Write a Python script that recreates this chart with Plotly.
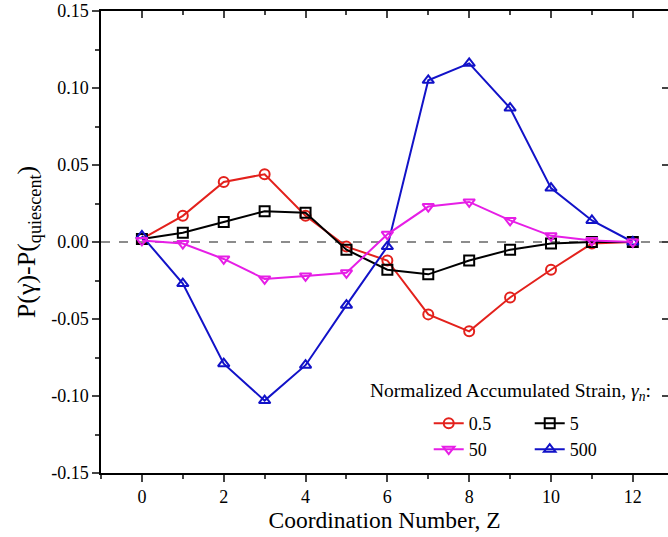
import plotly.graph_objects as go

Z = [0, 1, 2, 3, 4, 5, 6, 7, 8, 9, 10, 11, 12]
s_05 = [0.002, 0.017, 0.039, 0.044, 0.017, -0.003, -0.012, -0.047, -0.058, -0.036, -0.018, -0.001, 0.0]
s_5 = [0.002, 0.006, 0.013, 0.020, 0.019, -0.005, -0.018, -0.021, -0.012, -0.005, -0.001, 0.000, 0.0]
s_50 = [0.001, -0.001, -0.011, -0.024, -0.022, -0.020, 0.005, 0.023, 0.026, 0.014, 0.004, 0.001, 0.0]
s_500 = [0.004, -0.027, -0.079, -0.103, -0.080, -0.041, -0.003, 0.105, 0.116, 0.087, 0.035, 0.014, 0.0]
labels = ["0.5", "5", "50", "500"]

FONT = "Liberation Serif"

series = [
    (s_05, labels[0], "#e3211c", "circle-open", "legend", 1),
    (s_5, labels[1], "#000000", "square-open", "legend", 2),
    (s_500, labels[3], "#1212c8", "triangle-up-open", "legend2", 4),
    (s_50, labels[2], "#e61ee6", "triangle-down-open", "legend2", 3),
]

fig = go.Figure()
for ys, name, col, sym, leg, rank in series:
    fig.add_trace(go.Scatter(
        x=Z, y=ys, name=name, mode="lines+markers",
        line=dict(color=col, width=2),
        marker=dict(symbol=sym, size=10, color=col, line=dict(width=2, color=col)),
        legend=leg, legendrank=rank,
    ))

# helper trace so the mirrored top/right axes are drawn (no data)
fig.add_trace(go.Scatter(x=[], y=[], xaxis="x2", yaxis="y2", showlegend=False))

fig.add_shape(type="line", xref="paper", x0=0, x1=1, yref="y", y0=0, y1=0,
              line=dict(color="#8c8c8c", width=2, dash="dash"), layer="below")

xr = [-1, 12.86]
yr = [-0.15, 0.15]

fig.update_layout(
    width=668, height=537,
    margin=dict(l=101, r=0, t=11, b=64, autoexpand=False),
    paper_bgcolor="white", plot_bgcolor="white",
    font=dict(family=FONT, color="black", size=18),
    xaxis=dict(range=xr, tickvals=[0, 2, 4, 6, 8, 10, 12], ticks="outside", ticklen=7,
               tickwidth=1.5, showline=True, linecolor="black", linewidth=1.5,
               showgrid=False, zeroline=False,
               minor=dict(tickvals=[-1, 1, 3, 5, 7, 9, 11], ticks="outside", ticklen=4, tickwidth=1.5),
               title=dict(text="Coordination Number, Z", font=dict(size=23.5, family=FONT), standoff=1),
               tickfont=dict(size=18, family=FONT)),
    yaxis=dict(range=yr, tickvals=[-0.15, -0.10, -0.05, 0.0, 0.05, 0.10, 0.15],
               ticktext=["-0.15", "-0.10", "-0.05", "0.00", "0.05", "0.10", "0.15"],
               ticks="outside", ticklen=7, tickwidth=1.5, showline=True,
               linecolor="black", linewidth=1.5, showgrid=False, zeroline=False,
               minor=dict(tickvals=[-0.125, -0.075, -0.025, 0.025, 0.075, 0.125],
                          ticks="outside", ticklen=4, tickwidth=1.5),
               title=dict(text="P(γ)-P(<sub>quiescent</sub>)", font=dict(size=26, family=FONT), standoff=8),
               tickfont=dict(size=18, family=FONT)),
    xaxis2=dict(range=xr, overlaying="x", side="top", anchor="y", tickvals=[0, 2, 4, 6, 8, 10, 12],
                ticks="inside", ticklen=7, tickwidth=1.5, showline=True, linecolor="black",
                linewidth=1.5, showticklabels=False, showgrid=False, zeroline=False,
                minor=dict(tickvals=[-1, 1, 3, 5, 7, 9, 11], ticks="inside", ticklen=4, tickwidth=1.5)),
    yaxis2=dict(range=yr, overlaying="y", side="right", anchor="x",
                tickvals=[-0.15, -0.10, -0.05, 0.0, 0.05, 0.10, 0.15],
                ticks="inside", ticklen=6, tickwidth=1.5, showline=False,
                showticklabels=False, showgrid=False, zeroline=False),
    legend=dict(orientation="h", x=0.578, y=0.147, xanchor="left", yanchor="top",
                bgcolor="rgba(0,0,0,0)", font=dict(size=18, family=FONT), entrywidth=56,
                traceorder="normal", itemwidth=30),
    legend2=dict(orientation="h", x=0.578, y=0.091, xanchor="left", yanchor="top",
                 bgcolor="rgba(0,0,0,0)", font=dict(size=18, family=FONT), entrywidth=56,
                 traceorder="normal", itemwidth=30),
    annotations=[dict(text="Normalized Accumulated Strain, <i>γ<sub>n</sub></i>:",
                      xref="paper", yref="paper", x=0.974, y=0.175, xanchor="right",
                      yanchor="middle", showarrow=False, font=dict(size=19.5, family=FONT))],
)

fig.write_html("out.html")
